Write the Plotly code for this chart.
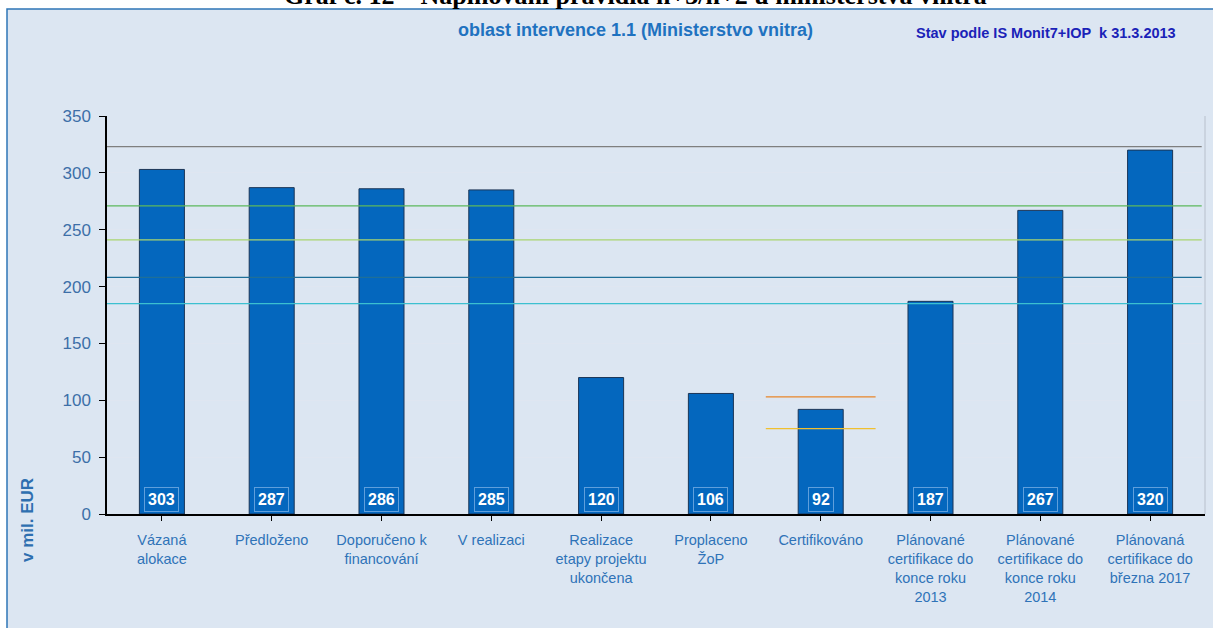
import plotly.graph_objects as go

categories = [
    "Vázaná<br>alokace",
    "Předloženo",
    "Doporučeno k<br>financování",
    "V realizaci",
    "Realizace<br>etapy projektu<br>ukončena",
    "Proplaceno<br>ŽoP",
    "Certifikováno",
    "Plánované<br>certifikace do<br>konce roku<br>2013",
    "Plánované<br>certifikace do<br>konce roku<br>2014",
    "Plánovaná<br>certifikace do<br>března 2017",
]
values = [303, 287, 286, 285, 120, 106, 92, 187, 267, 320]

# full-width reference lines (value, colour)
ref_values = [323, 271, 241, 208, 185]
ref_colors = ["#7f7f7f", "#5cb85c", "#a9d46f", "#1f6f98", "#3cc0d0"]
# short reference lines over "Certifikováno"
cert_values = [103, 75]
cert_colors = ["#e8862a", "#f0c030"]

W, H = 1213, 628
L, R, T, B = 107, 8, 116, 114
pw, ph = W - L - R, H - T - B


def px(x):
    return (x - L) / pw


def py(y):
    return (H - B - y) / ph


fig = go.Figure()
fig.add_trace(go.Bar(
    x=list(range(len(categories))), y=values,
    marker=dict(color="#0467be", line=dict(color="#1b3556", width=1)),
    width=0.41, hoverinfo="skip",
))

shapes = []
# outer light-blue frame
shapes.append(dict(type="rect", xref="paper", yref="paper",
                   x0=px(7), x1=px(W + 5), y0=py(H + 5), y1=py(9),
                   fillcolor="#dce6f2", line=dict(color="#2e75b6", width=1.5),
                   layer="below"))
# right border of plot area
shapes.append(dict(type="line", xref="paper", yref="paper", x0=1, x1=1, y0=0, y1=1,
                   line=dict(color="#c4ccd8", width=1.5)))
for v, c in zip(ref_values, ref_colors):
    shapes.append(dict(type="line", xref="paper", yref="y", x0=0, x1=0.997,
                       y0=v, y1=v, line=dict(color=c, width=1.2)))
for v, c in zip(cert_values, cert_colors):
    shapes.append(dict(type="line", xref="x", yref="y", x0=5.5, x1=6.5,
                       y0=v, y1=v, line=dict(color=c, width=1.2)))

annotations = []
for i, v in enumerate(values):
    annotations.append(dict(
        x=i, y=0, xref="x", yref="y", text=f"<b>{v}</b>", showarrow=False,
        yanchor="bottom", yshift=2, font=dict(color="white", size=16, family="Arial"),
        bgcolor="#0467be", bordercolor="#5f9fdc", borderwidth=1, borderpad=3,
    ))
annotations.append(dict(
    x=px(635), y=py(30), xref="paper", yref="paper", showarrow=False,
    text="<b>oblast intervence 1.1 (Ministerstvo vnitra)</b>",
    font=dict(color="#1f72c0", size=18, family="Arial"),
    xanchor="center", yanchor="middle"))
annotations.append(dict(
    x=px(1046), y=py(33), xref="paper", yref="paper", showarrow=False,
    text="<b>Stav podle IS Monit7+IOP  k 31.3.2013</b>",
    font=dict(color="#1a22b8", size=14.5, family="Arial"),
    xanchor="center", yanchor="middle"))
annotations.append(dict(
    x=px(635), y=py(-5), xref="paper", yref="paper", showarrow=False,
    text="<b>Graf č. 12 – Naplňování pravidla n+3/n+2 u ministerstva vnitra</b>",
    font=dict(color="black", size=26, family="Liberation Serif"),
    xanchor="center", yanchor="middle"))
annotations.append(dict(
    x=px(27), y=py(520), xref="paper", yref="paper", showarrow=False,
    text="<b>v mil. EUR</b>", textangle=-90,
    font=dict(color="#2e6fb0", size=17, family="Arial"),
    xanchor="center", yanchor="middle"))

fig.update_layout(
    width=W, height=H,
    margin=dict(l=L, r=R, t=T, b=B, pad=0),
    paper_bgcolor="white", plot_bgcolor="#eaeff8",
    showlegend=False, bargap=0.59,
    shapes=shapes, annotations=annotations,
    xaxis=dict(
        tickmode="array", tickvals=list(range(len(categories))), ticktext=categories,
        range=[-0.5, len(categories) - 0.5],
        showline=True, linecolor="black", linewidth=1.5,
        ticks="outside", tickson="boundaries", ticklen=5, tickcolor="black",
        tickfont=dict(color="#2f73b8", size=14.5, family="Arial"),
        ticklabelstandoff=7,
        showgrid=False, fixedrange=True, mirror=False, automargin=False,
    ),
    yaxis=dict(
        range=[0, 350], dtick=50, tick0=0,
        showline=True, linecolor="black", linewidth=1.5,
        ticks="outside", ticklen=6, tickcolor="black",
        tickfont=dict(color="#3d6fa8", size=17, family="Arial"),
        ticklabelstandoff=5,
        gridcolor="#dfe6f1", gridwidth=1, zeroline=False, fixedrange=True,
        automargin=False,
    ),
)

fig.write_html("out.html", config={"displayModeBar": False},
               post_script="document.body.style.margin='0';document.body.style.overflow='hidden';")
